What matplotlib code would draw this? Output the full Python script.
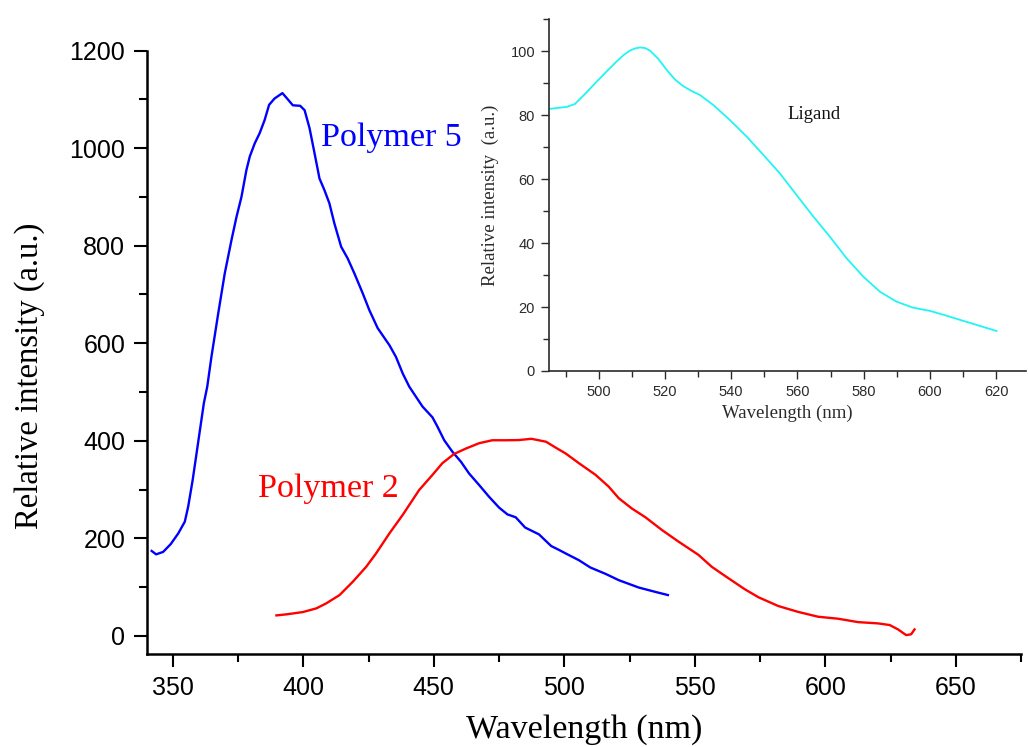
import matplotlib
matplotlib.use("Agg")
import matplotlib.pyplot as plt
from matplotlib.ticker import MultipleLocator

# Polymer 5 (blue) emission
p5_wl = [341.9, 343.6, 346.3, 349.2, 352.1, 354.6, 355.9, 357.6, 359.1, 360.4, 361.9,
         363.2, 364.8, 367.4, 369.9, 372.5, 374.4, 376.3, 378.2, 379.5, 381.4, 383.3,
         385.2, 386.9, 389.0, 392.0, 394.1, 396.0, 398.8, 400.5, 402.4, 404.3, 406.2,
         408.1, 410.0, 411.9, 414.5, 417.0, 419.6, 422.8, 425.3, 428.5, 433.0, 435.5,
         438.1, 440.6, 443.2, 445.7, 449.5, 451.4, 454.0, 457.2, 460.4, 463.5, 467.4,
         471.2, 475.0, 478.2, 481.4, 485.0, 490.3, 495.0, 498.0, 500.5, 505.6, 510.0,
         515.8, 520.9, 528.5, 534.9, 539.7]
p5_int = [174, 167, 172, 188, 210, 234, 265, 319, 374, 422, 477,
          511, 572, 661, 743, 812, 859, 900, 955, 983, 1010, 1031,
          1058, 1089, 1102, 1113, 1100, 1088, 1087, 1078, 1041, 990, 938,
          914, 887, 846, 798, 774, 743, 702, 668, 631, 596, 572,
          538, 511, 490, 470, 448, 429, 401, 377, 357, 333, 309,
          285, 263, 249, 243, 222, 208, 184, 176, 169, 155, 140,
          127, 114, 99, 90, 83.5]

# Polymer 2 (red) emission
p2_wl = [389.7, 393.5, 399.8, 405.0, 408.8, 413.9, 419.0, 424.1, 427.9, 433.0, 438.1,
         444.4, 449.5, 453.3, 457.8, 462.3, 467.4, 472.4, 477.6, 482.6, 487.4, 493.0,
         497.3, 500.5, 505.6, 512.0, 517.0, 520.9, 525.9, 531.1, 537.4, 543.8, 551.4,
         556.5, 562.9, 569.3, 574.4, 582.0, 589.6, 597.3, 604.9, 612.6, 620.2, 624.7,
         627.9, 631.0, 632.9, 634.2]
p2_int = [41.8, 43.9, 48.6, 56.2, 66.5, 83.5, 111, 141.5, 169, 210, 248,
          299, 330, 354, 373, 384, 395, 401, 401, 401.4, 404, 398,
          384, 374, 354, 330, 306, 282, 261, 243, 217, 193, 166,
          141.5, 118, 95, 79, 61, 49, 39, 35, 28, 25.4, 22,
          13, 1.4, 3, 13]

# Ligand (inset, cyan)
lig_wl = [485.3, 490.3, 492.8, 496.0, 499.4, 502.5, 505.4, 507.5, 509.4, 511.0, 512.5,
          514.0, 515.5, 518.0, 520.5, 523.0, 525.5, 528.0, 530.6, 534.6, 539.6, 544.7,
          549.7, 554.7, 559.7, 564.8, 569.8, 574.8, 579.9, 584.9, 589.9, 594.9, 600.0,
          605.0, 610.0, 615.1, 620.1]
lig_int = [82.0, 82.6, 83.5, 86.8, 90.5, 93.8, 96.8, 98.8, 100.2, 100.9, 101.2,
           101.0, 100.2, 97.6, 94.2, 91.2, 89.1, 87.6, 86.3, 83.2, 78.5, 73.3,
           67.6, 61.8, 55.1, 48.3, 42.0, 35.3, 29.5, 24.8, 21.7, 19.8, 18.8,
           17.3, 15.7, 14.1, 12.5]

W, H = 1028, 747
fig = plt.figure(figsize=(W / 100, H / 100), dpi=100)
fig.patch.set_facecolor("white")

serif = "Liberation Serif"
sans = "Liberation Sans"

# main axes
ax = fig.add_axes([146.7 / W, 1 - 654.3 / H, (1021 - 146.7) / W, (654.3 - 50.7) / H])
ax.plot(p5_wl, p5_int, color="#0000ff", lw=1.7)
ax.plot(p2_wl, p2_int, color="#ff0000", lw=1.7)
ax.set_xlim(340, 675)
ax.set_ylim(-38, 1200)
ax.spines["top"].set_visible(False)
ax.spines["right"].set_visible(False)
for s in ("left", "bottom"):
    ax.spines[s].set_linewidth(1.8)
ax.xaxis.set_minor_locator(MultipleLocator(25))
ax.yaxis.set_minor_locator(MultipleLocator(100))
ax.set_xticks([350, 400, 450, 500, 550, 600, 650])
ax.set_yticks([0, 200, 400, 600, 800, 1000, 1200])
ax.tick_params(which="major", direction="out", length=9.5, width=1.5, labelsize=18, pad=6)
ax.tick_params(which="minor", direction="out", length=5.5, width=1.5)
for lab in ax.get_xticklabels() + ax.get_yticklabels():
    lab.set_fontfamily(sans)
ax.set_xlabel("Wavelength (nm)", fontsize=24.5, family=serif, labelpad=10)
ax.set_ylabel("Relative intensity (a.u.)", fontsize=23.5, family=serif)
ax.yaxis.set_label_coords(-0.1163, 0.462)
ax.text(382.5, 284.5, "Polymer 2", color="#ff0000", fontsize=24.5, family=serif)
ax.text(406.9, 1004.5, "Polymer 5", color="#0000ff", fontsize=24.5, family=serif)

# inset
gray = "#2a2a2a"
ins = fig.add_axes([549 / W, 1 - 371 / H, (1026 - 549) / W, (371 - 19.3) / H])
ins.plot(lig_wl, lig_int, color="#22f4f4", lw=1.3)
ins.set_xlim(485, 629)
ins.set_ylim(0, 110)
ins.spines["top"].set_visible(False)
ins.spines["right"].set_visible(False)
for s in ("left", "bottom"):
    ins.spines[s].set_linewidth(1.2)
    ins.spines[s].set_color(gray)
ins.set_xticks([500, 520, 540, 560, 580, 600, 620])
ins.set_yticks([0, 20, 40, 60, 80, 100])
ins.xaxis.set_minor_locator(MultipleLocator(10))
ins.yaxis.set_minor_locator(MultipleLocator(10))
ins.tick_params(which="major", direction="out", length=6, width=1.0, colors=gray,
                labelsize=10.5, pad=4)
ins.tick_params(which="minor", direction="out", length=4, width=1.0, colors=gray)
for lab in ins.get_xticklabels() + ins.get_yticklabels():
    lab.set_fontfamily(sans)
ins.set_xlabel("Wavelength (nm)", fontsize=13.5, family=serif, color=gray, labelpad=4)
ins.set_ylabel("Relative intensity  (a.u.)", fontsize=13.5, family=serif, color=gray,
               labelpad=8)
ins.text(557.1, 78.8, "Ligand", fontsize=13.5, family=serif, color="#111111")

fig.savefig("out.png", dpi=100, facecolor="white")
